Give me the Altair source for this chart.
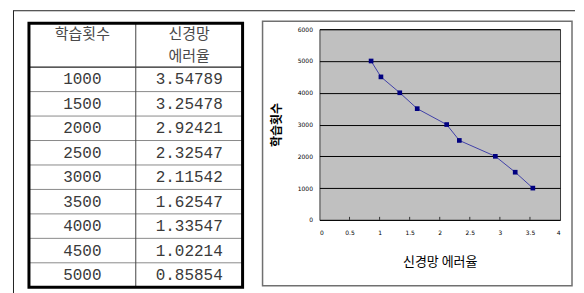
import altair as alt
import pandas as pd

# ---------------- data ----------------
counts = [1000, 1500, 2000, 2500, 3000, 3500, 4000, 4500, 5000]
errors = [3.54789, 3.25478, 2.92421, 2.32547, 2.11542, 1.62547, 1.33547, 1.02214, 0.85854]
count_text = ["1000", "1500", "2000", "2500", "3000", "3500", "4000", "4500", "5000"]
error_text = ["3.54789", "3.25478", "2.92421", "2.32547", "2.11542", "1.62547", "1.33547", "1.02214", "0.85854"]
head_left = ["학습횟수"]
head_right = ["신경망", "에러율"]
x_title = "신경망 에러율"
y_title = "학습횟수"
y_ticks = [0, 1000, 2000, 3000, 4000, 5000, 6000]
x_ticks = [0, 0.5, 1, 1.5, 2, 2.5, 3, 3.5, 4]
x_minor = [0.5, 1, 1.5, 2, 2.5, 3, 3.5]

# ---------------- layout ----------------
TW = 214          # table width (px)
ROW = 24.5        # data row height
HEAD = 44         # header height
NROW = len(counts)
TH = HEAD + NROW * ROW
SHIFT = -6        # table top relative to panel top
LEFT_H = TH + SHIFT
PW, PH = 241, 191  # plot area
GAP = 77
KFONT = "Noto Sans CJK KR"
NFONT = "Liberation Mono"

# ---------------- table ----------------
tx = alt.Scale(domain=[0, 2], nice=False, zero=False)
ty = alt.Scale(domain=[0, TH], range=[SHIFT, SHIFT + TH], nice=False, zero=False)

cells = pd.DataFrame({
    "col": [0.5] * NROW + [1.5] * NROW,
    "row": list(range(NROW)) * 2,
    "txt": count_text + error_text,
})
cells["y"] = HEAD + (cells["row"] + 0.5) * ROW

heads = pd.DataFrame({
    "col": [0.5, 1.5, 1.5],
    "y": [11, 11, 33],
    "txt": head_left + head_right,
})

row_lines = pd.DataFrame({"y": [HEAD + k * ROW for k in range(1, NROW)], "x": 0, "x2": 2})
head_line = pd.DataFrame({"y": [HEAD], "x": [0], "x2": [2]})
div_line = pd.DataFrame({"x": [1], "y": [0], "y2": [TH]})
border = pd.DataFrame({"x": [0], "x2": [2], "y": [0], "y2": [TH]})
dummy = pd.DataFrame({"a": [0]})

t_text = alt.Chart(cells).mark_text(font=NFONT, fontSize=16, color="#3a3a3a").encode(
    x=alt.X("col:Q", scale=tx, axis=None),
    y=alt.Y("y:Q", scale=ty, axis=None),
    text="txt:N",
)
t_head = alt.Chart(heads).mark_text(font=KFONT, fontSize=15, color="#4a4a4a").encode(
    x=alt.X("col:Q", scale=tx, axis=None),
    y=alt.Y("y:Q", scale=ty, axis=None),
    text="txt:N",
)
t_rows = alt.Chart(row_lines).mark_rule(color="#8a8a8a", strokeWidth=1).encode(
    x=alt.X("x:Q", scale=tx, axis=None), x2="x2:Q",
    y=alt.Y("y:Q", scale=ty, axis=None),
)
t_hline = alt.Chart(head_line).mark_rule(color="#222222", strokeWidth=1.2).encode(
    x=alt.X("x:Q", scale=tx, axis=None), x2="x2:Q",
    y=alt.Y("y:Q", scale=ty, axis=None),
)
t_div = alt.Chart(div_line).mark_rule(color="#444444", strokeWidth=1).encode(
    x=alt.X("x:Q", scale=tx, axis=None),
    y=alt.Y("y:Q", scale=ty, axis=None), y2="y2:Q",
)
t_border = alt.Chart(border).mark_rect(fillOpacity=0, stroke="#000000", strokeWidth=3).encode(
    x=alt.X("x:Q", scale=tx, axis=None), x2="x2:Q",
    y=alt.Y("y:Q", scale=ty, axis=None), y2="y2:Q",
)
# document frame lines (decorative)
doc_v = alt.Chart(dummy).mark_rule(color="#222222", strokeWidth=1).encode(
    x=alt.value(-15.5), y=alt.value(-18.5), y2=alt.value(265)
)
doc_h = alt.Chart(dummy).mark_rule(color="#222222", strokeWidth=1).encode(
    x=alt.value(-16), x2=alt.value(547), y=alt.value(-18.5)
)

left = alt.layer(doc_v, doc_h, t_rows, t_hline, t_div, t_border, t_head, t_text).properties(
    width=TW, height=LEFT_H,
    view=alt.ViewBackground(stroke="transparent", fill="transparent"),
)

# ---------------- chart ----------------
df = pd.DataFrame({"err": errors, "cnt": counts})
xs = alt.Scale(domain=[0, 4], nice=False, zero=False)
ys = alt.Scale(domain=[0, 6000], nice=False, zero=False)

x_axis = alt.Axis(
    values=x_ticks, format="~g", grid=False, ticks=False, domain=False,
    labelFontSize=6, labelColor="#000000", labelPadding=10, labelFont="DejaVu Sans",
    title=x_title, titleFont=KFONT, titleFontSize=13, titleFontWeight="normal",
    titleColor="#000000", titleY=42, titleBaseline="middle",
)
y_axis = alt.Axis(
    values=y_ticks, format="d", grid=True, gridColor="#000000", gridWidth=1,
    ticks=False, domain=False,
    labelFontSize=6, labelColor="#000000", labelPadding=7, labelFont="DejaVu Sans",
    title=y_title, titleFont=KFONT, titleFontSize=12, titleFontWeight="bold",
    titleColor="#000000", titleAngle=270, titleX=-43, titleY=PH / 2,
    titleBaseline="middle", titleAlign="center",
)

frame = alt.Chart(dummy).mark_rect(fillOpacity=0, stroke="#707070", strokeWidth=1.5).encode(
    x=alt.value(-57), x2=alt.value(253), y=alt.value(-8), y2=alt.value(257)
)
base = alt.Chart(df).encode(
    x=alt.X("err:Q", scale=xs, axis=x_axis),
    y=alt.Y("cnt:Q", scale=ys, axis=y_axis),
)
line = base.mark_line(color="#4040a8", strokeWidth=1, interpolate="linear").encode(
    order=alt.Order("cnt:Q")
)
pts = base.mark_point(shape="square", filled=True, size=22, color="#000080", opacity=1)
minor = alt.Chart(pd.DataFrame({"t": x_minor})).mark_rule(color="#333333", strokeWidth=1).encode(
    x=alt.X("t:Q", scale=xs, axis=x_axis), y=alt.value(PH - 3), y2=alt.value(PH)
)

right = alt.layer(frame, line, pts, minor).properties(
    width=PW, height=PH,
    view=alt.ViewBackground(fill="#c0c0c0", stroke="#3a3a3a", strokeWidth=1),
)

chart = alt.hconcat(left, right, spacing=GAP, bounds="flush").properties(
    padding={"left": 4, "top": 1, "right": 0, "bottom": 0},
    autosize=alt.AutoSizeParams(type="pad"),
    background="white",
)

chart.save("out.html", embed_options={"renderer": "svg", "actions": False})
